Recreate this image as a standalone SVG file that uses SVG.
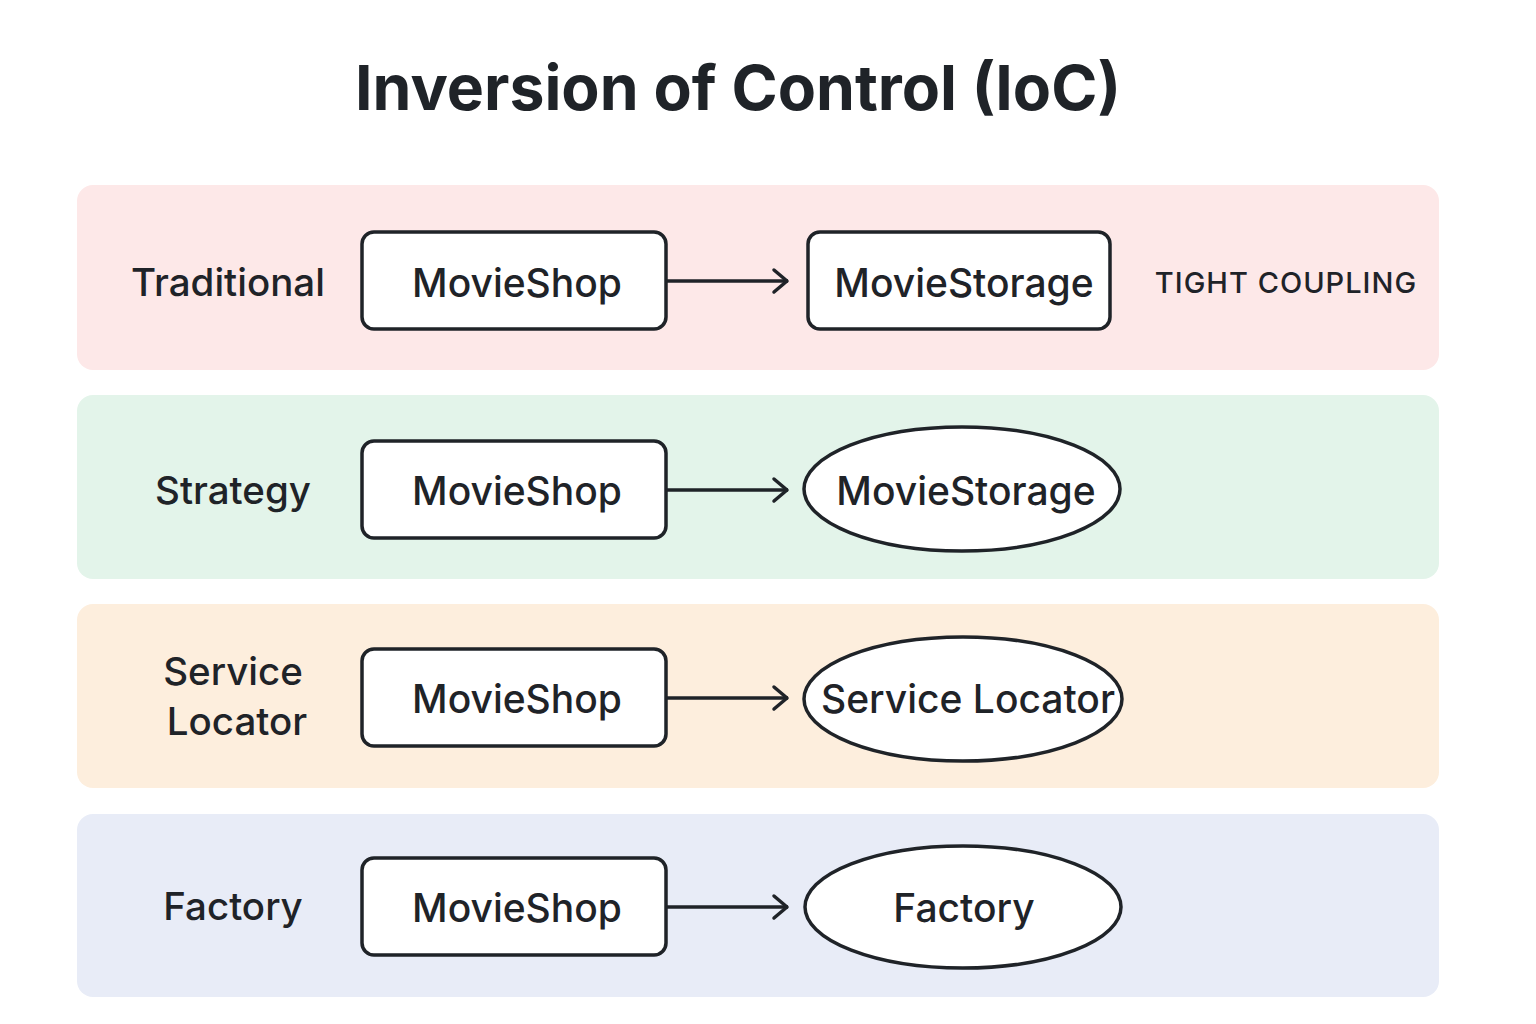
<svg xmlns="http://www.w3.org/2000/svg" width="1536" height="1024" viewBox="0 0 1536 1024">
<defs>
<style>
text{font-family:Inter,"Liberation Sans",sans-serif;fill:#1f2328;}
.title{font-size:62.5px;font-weight:700;text-anchor:middle;}
.lbl{font-size:38.5px;font-weight:500;text-anchor:middle;dominant-baseline:central;}
.nt{font-size:39px;font-weight:500;text-anchor:middle;dominant-baseline:central;}
.tc{font-size:29px;font-weight:500;text-anchor:middle;dominant-baseline:central;letter-spacing:1px;}
.node{fill:#fff;stroke:#1f2328;stroke-width:3.5;}
.conn{stroke:#1f2328;stroke-width:3.5;fill:none;}
</style>
<marker id="ah" viewBox="0 0 20 28" refX="18" refY="14" markerWidth="20" markerHeight="28" markerUnits="userSpaceOnUse" orient="auto">
<path d="M4,3 L17,14 L4,25" fill="none" stroke="#1f2328" stroke-width="3.5" stroke-linecap="round" stroke-linejoin="round"/>
</marker>
</defs>
<rect width="1536" height="1024" fill="#fff"/>
<text class="title" x="738" y="110">Inversion of Control (IoC)</text>
<g id="bands">
<rect x="77" y="185" width="1362" height="185" rx="16" fill="#fde8e8"/>
<rect x="77" y="395" width="1362" height="184" rx="16" fill="#e3f4ea"/>
<rect x="77" y="604" width="1362" height="184" rx="16" fill="#fdeedd"/>
<rect x="77" y="814" width="1362" height="183" rx="16" fill="#e8ecf7"/>
</g>
<g id="labels">
<text class="lbl" x="228" y="282">Traditional</text>
<text class="lbl" x="233" y="490">Strategy</text>
<text class="lbl" x="233" y="671">Service</text>
<text class="lbl" x="237" y="721">Locator</text>
<text class="lbl" x="233" y="906">Factory</text>
<text class="tc" x="1286" y="282">TIGHT COUPLING</text>
</g>
<g id="connectors">
<line class="conn" x1="667" y1="281" x2="788" y2="281" marker-end="url(#ah)"/>
<line class="conn" x1="667" y1="490" x2="788" y2="490" marker-end="url(#ah)"/>
<line class="conn" x1="667" y1="698" x2="788" y2="698" marker-end="url(#ah)"/>
<line class="conn" x1="667" y1="907" x2="788" y2="907" marker-end="url(#ah)"/>
</g>
<g id="n1-shop"><rect class="node" x="362" y="232" width="304" height="97" rx="12"/><text class="nt" x="517" y="282">MovieShop</text></g>
<g id="n1-storage"><rect class="node" x="808" y="232" width="302" height="97" rx="12"/><text class="nt" x="964" y="282">MovieStorage</text></g>
<g id="n2-shop"><rect class="node" x="362" y="441" width="304" height="97" rx="12"/><text class="nt" x="517" y="490">MovieShop</text></g>
<g id="n2-storage"><ellipse class="node" cx="962" cy="489" rx="158" ry="62"/><text class="nt" x="966" y="490">MovieStorage</text></g>
<g id="n3-shop"><rect class="node" x="362" y="649" width="304" height="97" rx="12"/><text class="nt" x="517" y="698">MovieShop</text></g>
<g id="n3-locator"><ellipse class="node" cx="963" cy="699" rx="159" ry="62"/><text class="nt" x="968" y="698">Service Locator</text></g>
<g id="n4-shop"><rect class="node" x="362" y="858" width="304" height="97" rx="12"/><text class="nt" x="517" y="907">MovieShop</text></g>
<g id="n4-factory"><ellipse class="node" cx="963" cy="907" rx="158" ry="61"/><text class="nt" x="964" y="907">Factory</text></g>
</svg>
